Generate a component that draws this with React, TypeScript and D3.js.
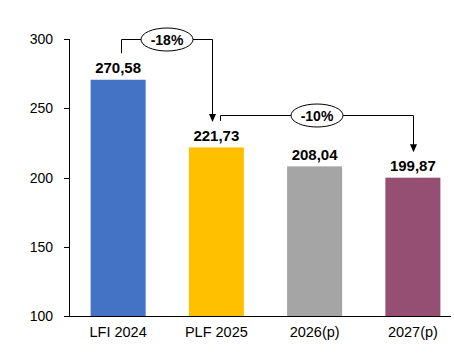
import React from "react";
import * as d3 from "d3";

const categories = ["LFI 2024", "PLF 2025", "2026(p)", "2027(p)"];
const values = [270.58, 221.73, 208.04, 199.87];
const valueLabels = ["270,58", "221,73", "208,04", "199,87"];
const colors = ["#4472C4", "#FFC000", "#A5A5A5", "#954F72"];
const yTicks = [100, 150, 200, 250, 300];
const annotFrom = [0, 1];
const annotTo = [1, 3];
const annotLabels = ["-18%", "-10%"];
const annotLevels = [300, 245];

const W = 454;
const H = 363;
const FONT = "'Liberation Sans', Arial, sans-serif";
const fromOffset = [2.5, 4];
const toOffset = [-4, 0];

export default function App() {
  const y = d3.scaleLinear().domain([100, 300]).range([316, 39]);
  const x = d3.scaleBand<string>().domain(categories).range([69, 462]).paddingInner(0.44).paddingOuter(0.22);
  const cx = (i: number) => (x(categories[i]) as number) + x.bandwidth() / 2;
  const labelBase = (i: number) => y(values[i]) - 6.5;
  const labelTop = (i: number) => labelBase(i) - 11;

  return (
    <svg width={W} height={H} style={{ position: "absolute", left: 0, top: 0, background: "#fff" }} fontFamily={FONT}>
      <rect x={0} y={0} width={W} height={H} fill="#fff" />
      {values.map((v, i) => (
        <rect key={i} x={x(categories[i])} y={y(v)} width={x.bandwidth()} height={y(100) - y(v)} fill={colors[i]} />
      ))}
      <line x1={69.5} x2={69.5} y1={y(300)} y2={y(100)} stroke="#000" strokeWidth={1} />
      <line x1={69} x2={451} y1={y(100) + 0.5} y2={y(100) + 0.5} stroke="#000" strokeWidth={1} />
      {yTicks.map((t) => (
        <g key={t}>
          <line x1={64} x2={69.5} y1={Math.round(y(t)) + 0.5} y2={Math.round(y(t)) + 0.5} stroke="#000" />
          <text x={53} y={y(t) + 5} textAnchor="end" fontSize={14} fill="#000">{t}</text>
        </g>
      ))}
      {categories.map((c, i) => (
        <text key={c} x={cx(i)} y={337} textAnchor="middle" fontSize={14.5} fill="#000">{c}</text>
      ))}
      {values.map((v, i) => (
        <text key={i} x={cx(i)} y={labelBase(i)} textAnchor="middle" fontSize={15} fontWeight="bold" fill="#000">{valueLabels[i]}</text>
      ))}
      {annotLabels.map((lab, k) => {
        const a = annotFrom[k];
        const b = annotTo[k];
        const x1 = Math.round(cx(a) + fromOffset[k]) + 0.5;
        const x2 = Math.round(cx(b) + toOffset[k]) + 0.5;
        const ly = Math.round(y(annotLevels[k])) + 0.5;
        const startY = labelTop(a) - 9;
        const tipY = labelTop(b) - 8;
        const mx = (x1 + x2) / 2;
        return (
          <g key={k}>
            <path d={`M${x1},${startY}V${ly}H${x2}V${tipY - 7}`} fill="none" stroke="#000" strokeWidth={1} />
            <path d={`M${x2 - 3.5},${tipY - 8}L${x2 + 3.5},${tipY - 8}L${x2},${tipY}Z`} fill="#000" />
            <ellipse cx={mx} cy={ly} rx={26} ry={11.5} fill="#fff" stroke="#000" strokeWidth={1} />
            <text x={mx} y={ly + 5} textAnchor="middle" fontSize={14} fontWeight="bold" fill="#000">{lab}</text>
          </g>
        );
      })}
    </svg>
  );
}
